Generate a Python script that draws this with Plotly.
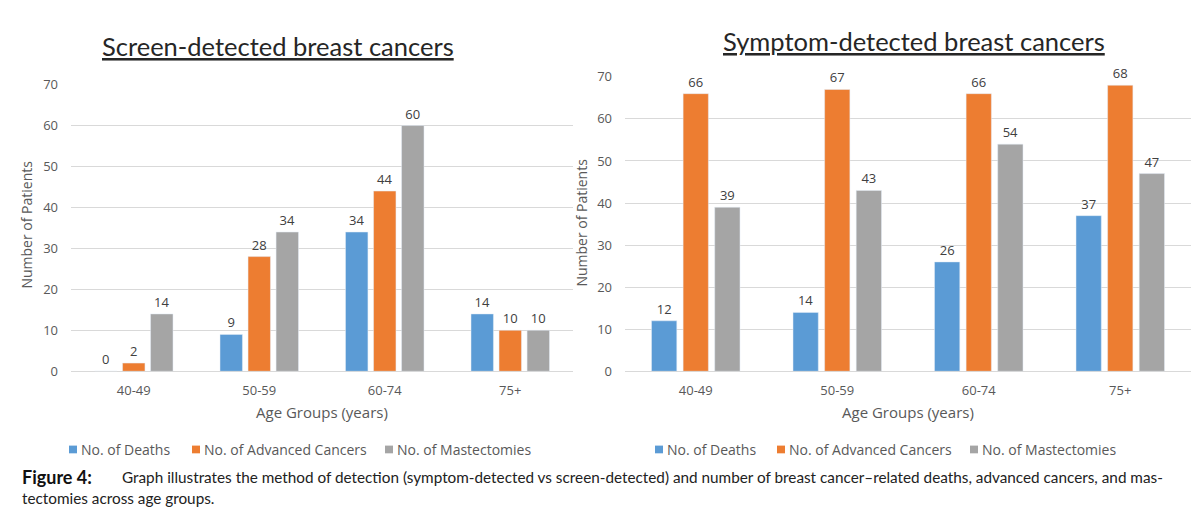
import plotly.graph_objects as go

# ---------------- data ----------------
age_groups = ["40-49", "50-59", "60-74", "75+"]
series_names = ["No. of Deaths", "No. of Advanced Cancers", "No. of Mastectomies"]
colors = ["#5B9BD5", "#ED7D31", "#A5A5A5"]

screen_deaths = [0, 9, 34, 14]
screen_advanced = [2, 28, 44, 10]
screen_mastectomies = [14, 34, 60, 10]

symptom_deaths = [12, 14, 26, 37]
symptom_advanced = [66, 67, 66, 68]
symptom_mastectomies = [39, 43, 54, 47]

y_ticks = [0, 10, 20, 30, 40, 50, 60, 70]

left_title = "Screen-detected breast cancers"
right_title = "Symptom-detected breast cancers"
x_title = "Age Groups (years)"
y_title = "Number of Patients"
caption_head = "Figure 4:"
caption_line1 = ("Graph illustrates the method of detection (symptom-detected vs screen-detected) "
                 "and number of breast cancer\u2013related deaths, advanced cancers, and mas-")
caption_line2 = "tectomies across age groups."

# ---------------- figure ----------------
W, H = 1200, 519
TXT = "Open Sans"
fig = go.Figure()

screen = [screen_deaths, screen_advanced, screen_mastectomies]
symptom = [symptom_deaths, symptom_advanced, symptom_mastectomies]

for i, name in enumerate(series_names):
    fig.add_trace(go.Bar(
        x=age_groups, y=screen[i], name=name, marker_color=colors[i],
        text=screen[i], textposition="outside", cliponaxis=False,
        textfont=dict(size=13, color="#404040", family=TXT),
        xaxis="x", yaxis="y", showlegend=False))
for i, name in enumerate(series_names):
    fig.add_trace(go.Bar(
        x=age_groups, y=symptom[i], name=name, marker_color=colors[i],
        text=symptom[i], textposition="outside", cliponaxis=False,
        textfont=dict(size=13, color="#404040", family=TXT),
        xaxis="x2", yaxis="y2", showlegend=False))

def px_x(p):
    return p / W

def px_y(p):
    return 1 - p / H

xaxis_common = dict(showgrid=False, showline=False, zeroline=False, ticks="",
                    tickfont=dict(size=13, color="#595959", family=TXT),
                    ticklabelstandoff=10)
yaxis_common = dict(range=[0, 70], tickvals=y_ticks, showgrid=True, gridcolor="#D9D9D9",
                    gridwidth=1, zeroline=True, zerolinecolor="#D9D9D9", zerolinewidth=1,
                    showline=False, ticks="",
                    tickfont=dict(size=13, color="#595959", family=TXT),
                    ticklabelstandoff=12)

fig.update_layout(
    width=W, height=H,
    margin=dict(l=0, r=0, t=0, b=0),
    paper_bgcolor="white", plot_bgcolor="white",
    barmode="group", bargap=0.33, bargroupgap=0.2,
    font=dict(family=TXT, color="#595959"),
    showlegend=False,
    xaxis=dict(domain=[px_x(63), px_x(565)], anchor="y", **xaxis_common),
    yaxis=dict(domain=[px_y(367), px_y(70)], anchor="x", **yaxis_common),
    xaxis2=dict(domain=[px_x(617), px_x(1183)], anchor="y2", **xaxis_common),
    yaxis2=dict(domain=[px_y(367), px_y(62)], anchor="x2", **yaxis_common),
)

annotations = [
    dict(text="<u>" + left_title + "</u>", x=px_x(270), y=px_y(30), xref="paper", yref="paper",
         showarrow=False, xanchor="center", yanchor="middle",
         font=dict(size=25.5, color="#262626", family="Lato")),
    dict(text="<u>" + right_title + "</u>", x=px_x(906), y=px_y(25), xref="paper", yref="paper",
         showarrow=False, xanchor="center", yanchor="middle",
         font=dict(size=25.5, color="#262626", family="Lato")),
    dict(text=x_title, x=px_x(314), y=px_y(409), xref="paper", yref="paper",
         showarrow=False, xanchor="center", yanchor="middle",
         font=dict(size=15, color="#595959", family=TXT)),
    dict(text=x_title, x=px_x(900), y=px_y(409), xref="paper", yref="paper",
         showarrow=False, xanchor="center", yanchor="middle",
         font=dict(size=15, color="#595959", family=TXT)),
    dict(text=y_title, x=px_x(19), y=px_y(215), xref="paper", yref="paper", textangle=-90,
         showarrow=False, xanchor="center", yanchor="middle",
         font=dict(size=14, color="#595959", family=TXT)),
    dict(text=y_title, x=px_x(574), y=px_y(213), xref="paper", yref="paper", textangle=-90,
         showarrow=False, xanchor="center", yanchor="middle",
         font=dict(size=14, color="#595959", family=TXT)),
    dict(text="<b>" + caption_head + "</b>", x=px_x(12), y=px_y(477), xref="paper", yref="paper",
         showarrow=False, xanchor="left", yanchor="middle",
         font=dict(size=18, color="#111111", family="Lato")),
    dict(text=caption_line1, x=px_x(112), y=px_y(477), xref="paper", yref="paper",
         showarrow=False, xanchor="left", yanchor="middle",
         font=dict(size=15.3, color="#222222", family="Lato")),
    dict(text=caption_line2, x=px_x(12), y=px_y(498), xref="paper", yref="paper",
         showarrow=False, xanchor="left", yanchor="middle",
         font=dict(size=15.3, color="#222222", family="Lato")),
]

# legend rows (one per panel): marker centre x positions in px
legend_y = 448
legend_left_x = [65, 188, 381]
legend_right_x = [651, 773, 966]
shapes = []
for xs in (legend_left_x, legend_right_x):
    for i, name in enumerate(series_names):
        cx = xs[i]
        shapes.append(dict(type="rect", xref="paper", yref="paper",
                           x0=px_x(cx - 4), x1=px_x(cx + 4),
                           y0=px_y(legend_y + 4), y1=px_y(legend_y - 4),
                           fillcolor=colors[i], line=dict(width=0)))
        annotations.append(dict(text=name, x=px_x(cx + 6), y=px_y(legend_y), xref="paper",
                                yref="paper", showarrow=False, xanchor="left", yanchor="middle",
                                font=dict(size=14, color="#595959", family=TXT)))

fig.update_layout(annotations=annotations, shapes=shapes)

fig.write_html("out.html")
